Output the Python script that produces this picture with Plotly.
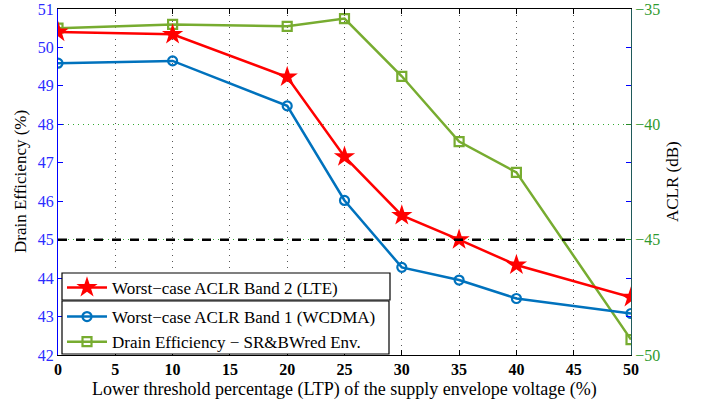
import plotly.graph_objects as go

# ---- data ----
ltp = [0, 10, 20, 25, 30, 35, 40, 50]
aclr_lte = [-36.0, -36.1, -37.95, -41.4, -43.95, -45.0, -46.1, -47.5]
aclr_wcdma = [-37.35, -37.25, -39.2, -43.3, -46.2, -46.75, -47.55, -48.2]
drain_eff = [50.5, 50.6, 50.55, 50.75, 49.25, 47.55, 46.75, 42.4]
x_ticks = [0, 5, 10, 15, 20, 25, 30, 35, 40, 45, 50]
left_ticks = [42, 43, 44, 45, 46, 47, 48, 49, 50, 51]
right_ticks = [-50, -45, -40, -35]
right_labels = ["\u221250", "\u221245", "\u221240", "\u221235"]
threshold_eff = 45

names = ["Worst\u2212case ACLR Band 2 (LTE)",
         "Worst\u2212case ACLR Band 1 (WCDMA)",
         "Drain Efficiency \u2212 SR&BWred Env."]
x_title = "Lower threshold percentage (LTP) of the supply envelope voltage (%)"
y_title = "Drain Efficiency (%)"
y2_title = "ACLR (dB)"

RED = "#ff0000"
BLUE = "#0072bd"
GREEN = "#77ac30"
SERIF = "Liberation Serif"

L, R, T, B = 58, 75, 9, 45
W, H = 706, 400
PW, PH = W - L - R, H - T - B

def px_x(p):
    return (p - L) / PW

def px_y(p):
    return (H - B - p) / PH

fig = go.Figure()

fig.add_trace(go.Scatter(
    x=ltp, y=aclr_lte, yaxis="y2", name=names[0], mode="lines+markers",
    line=dict(color=RED, width=2.5),
    marker=dict(symbol="star", size=16, color=RED, line=dict(width=0)),
    legend="legend"))
fig.add_trace(go.Scatter(
    x=ltp, y=aclr_wcdma, yaxis="y2", name=names[1], mode="lines+markers",
    line=dict(color=BLUE, width=2.5),
    marker=dict(symbol="circle-open", size=9, color=BLUE, line=dict(width=2.2)),
    legend="legend2"))
fig.add_trace(go.Scatter(
    x=ltp, y=drain_eff, yaxis="y", name=names[2], mode="lines+markers",
    line=dict(color=GREEN, width=2.5),
    marker=dict(symbol="square-open", size=9, color=GREEN, line=dict(width=2.2)),
    legend="legend2"))

# dashed threshold line
fig.add_shape(type="line", xref="paper", x0=0, x1=1, yref="y",
              y0=threshold_eff, y1=threshold_eff,
              line=dict(color="black", width=2.5, dash="dash"), layer="above")

# legend boxes
fig.add_shape(type="rect", xref="paper", yref="paper",
              x0=px_x(62), x1=px_x(390), y0=px_y(300), y1=px_y(273),
              line=dict(color="black", width=1.2), fillcolor="white", layer="above")
fig.add_shape(type="rect", xref="paper", yref="paper",
              x0=px_x(62), x1=px_x(389), y0=px_y(354), y1=px_y(301),
              line=dict(color="black", width=1.2), fillcolor="white", layer="above")

# axis titles as annotations
fig.add_annotation(text=x_title, xref="paper", yref="paper",
                   x=0.5, y=px_y(389), xanchor="center", yanchor="middle",
                   showarrow=False, font=dict(family=SERIF, size=18, color="black"))
fig.add_annotation(text=y_title, xref="paper", yref="paper",
                   x=px_x(20), y=0.5, xanchor="center", yanchor="middle",
                   textangle=-90, showarrow=False,
                   font=dict(family=SERIF, size=17, color="black"))
fig.add_annotation(text=y2_title, xref="paper", yref="paper",
                   x=px_x(672), y=0.5, xanchor="center", yanchor="middle",
                   textangle=-90, showarrow=False,
                   font=dict(family=SERIF, size=17, color="black"))

fig.update_layout(
    width=W, height=H,
    margin=dict(l=L, r=R, t=T, b=B, autoexpand=False),
    paper_bgcolor="white", plot_bgcolor="white",
    font=dict(family=SERIF, size=16, color="black"),
    showlegend=True,
    legend=dict(x=px_x(62), y=px_y(270), xanchor="left", yanchor="top",
                bgcolor="rgba(0,0,0,0)", borderwidth=0,
                font=dict(family=SERIF, size=17), itemwidth=40,
                tracegroupgap=0),
    legend2=dict(x=px_x(62), y=px_y(299), xanchor="left", yanchor="top",
                 bgcolor="rgba(0,0,0,0)", borderwidth=0,
                 font=dict(family=SERIF, size=17), itemwidth=40,
                 tracegroupgap=0),
    xaxis=dict(range=[0, 50], tickvals=x_ticks, showgrid=True, automargin=False,
               gridcolor="#555555", griddash="1px,5px", gridwidth=1,
               ticks="inside", ticklen=5, tickcolor="black",
               showline=True, linecolor="black", linewidth=1.2, mirror="ticks",
               zeroline=False, ticklabelstandoff=0,
               tickfont=dict(family=SERIF, size=16, color="black", weight="bold")),
    yaxis=dict(range=[42, 51], tickvals=left_ticks, showgrid=False, automargin=False,
               ticks="inside", ticklen=5, tickcolor="#0000ff",
               showline=True, linecolor="#0000ff", linewidth=1.2, mirror="ticks",
               zeroline=False,
               tickfont=dict(family=SERIF, size=16, color="#2b2bff")),
    yaxis2=dict(range=[-50, -35], tickvals=right_ticks, ticktext=right_labels,
                overlaying="y", side="right", automargin=False,
                showgrid=True, gridcolor="#33aa33", griddash="1px,4px", gridwidth=1,
                ticks="inside", ticklen=5, tickcolor="#2a8a2a",
                showline=True, linecolor="#1f5a5a", linewidth=1.2,
                zeroline=False,
                tickfont=dict(family=SERIF, size=16, color="#2f9a2f")),
)

fig.write_html("out.html", config={"displayModeBar": False},
               post_script="document.body.style.margin='0';document.body.style.overflow='hidden';")
